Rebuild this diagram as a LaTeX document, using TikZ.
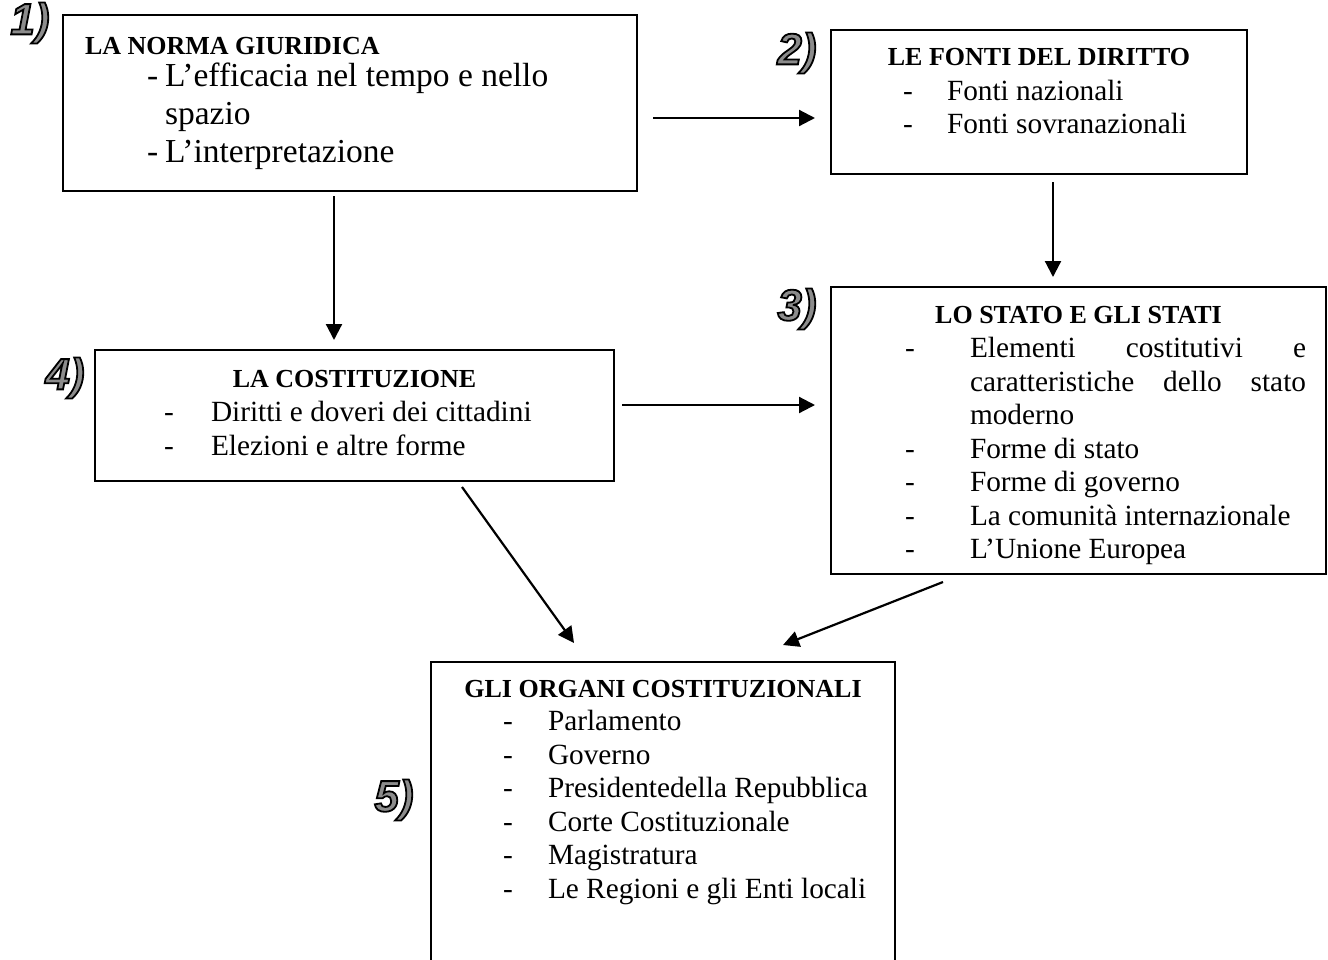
\documentclass[tikz,border=0pt]{standalone}
\usepackage{fontspec}
\setmainfont{Liberation Serif}
\newfontfamily\lblfont{Liberation Sans}
\usetikzlibrary{arrows.meta,calc}
\definecolor{lblgray}{gray}{0.55}
\newcommand{\outl}[1]{\special{pdf:literal direct 2 Tr 1.8 w 0 G}#1\special{pdf:literal direct 0 Tr}}
\begin{document}
\begin{tikzpicture}[x=1pt,y=-1pt,
 box/.style={draw,line width=1.3pt,inner sep=0pt,outer sep=0pt,anchor=north west},
 ttl/.style={inner sep=0pt,outer sep=0pt,anchor=base,font=\fontsize{26}{30}\selectfont\bfseries},
 itm/.style={inner sep=0pt,outer sep=0pt,anchor=base west,font=\fontsize{29.3}{33.7}\selectfont},
 itmA/.style={itm,font=\fontsize{33.5}{38.5}\selectfont},
 arr/.style={line width=2.2pt,-{Triangle[length=16pt,width=16pt]}},
 lbl/.style={inner sep=0pt,outer sep=0pt,font=\lblfont\fontsize{44}{46}\selectfont\bfseries\itshape,text=lblgray}]
\useasboundingbox (0,0) rectangle (1328,959);

% boxes
\node[box,minimum width=574pt,minimum height=176pt] (b1) at (63,15) {};
\node[box,minimum width=416pt,minimum height=144pt] (b2) at (831,30) {};
\node[box,minimum width=495pt,minimum height=287pt] (b3) at (831,287) {};
\node[box,minimum width=519pt,minimum height=131pt] (b4) at (95,350) {};
\node[box,minimum width=464pt,minimum height=320pt] (b5) at (431,662) {};

% labels
\node[lbl] (l1) at (30,23) {\outl{1)}};
\node[lbl] (l2) at (797,53) {\outl{2)}};
\node[lbl] (l3) at (797,309) {\outl{3)}};
\node[lbl] (l4) at (65,378) {\outl{4)}};
\node[lbl] (l5) at (394,800) {\outl{5)}};

% box 1
\node[ttl,anchor=base west] (t1) at (85,54) {LA NORMA GIURIDICA};
\node[itmA] (d11) at (147,86) {-};
\node[itmA] (i11) at (165,86) {L’efficacia nel tempo e nello};
\node[itmA] (i12) at (165,124) {spazio};
\node[itmA] (d13) at (147,162) {-};
\node[itmA] (i13) at (165,162) {L’interpretazione};

% box 2
\node[ttl] (t2) at (1039,65) {LE FONTI DEL DIRITTO};
\node[itm] (d21) at (903,100) {-};
\node[itm] (i21) at (947,100) {Fonti nazionali};
\node[itm] (d22) at (903,133) {-};
\node[itm] (i22) at (947,133) {Fonti sovranazionali};

% box 3
\node[ttl] (t3) at (1078.5,323) {LO STATO E GLI STATI};
\node[itm] (d31) at (905,357) {-};
\node[itm] (i31) at (970,357) {\makebox[336pt][l]{Elementi\hfill costitutivi\hfill e}};
\node[itm] (i32) at (970,391) {\makebox[336pt][l]{caratteristiche\hfill dello\hfill stato}};
\node[itm] (i33) at (970,424) {moderno};
\node[itm] (d34) at (905,458) {-};
\node[itm] (i34) at (970,458) {Forme di stato};
\node[itm] (d35) at (905,491) {-};
\node[itm] (i35) at (970,491) {Forme di governo};
\node[itm] (d36) at (905,525) {-};
\node[itm] (i36) at (970,525) {La comunità internazionale};
\node[itm] (d37) at (905,558) {-};
\node[itm] (i37) at (970,558) {L’Unione Europea};

% box 4
\node[ttl] (t4) at (354.5,387) {LA COSTITUZIONE};
\node[itm] (d41) at (164,421) {-};
\node[itm] (i41) at (211,421) {Diritti e doveri dei cittadini};
\node[itm] (d42) at (164,455) {-};
\node[itm] (i42) at (211,455) {Elezioni e altre forme};

% box 5
\node[ttl] (t5) at (663,697) {GLI ORGANI COSTITUZIONALI};
\node[itm] (d51) at (503,730) {-};
\node[itm] (i51) at (548,730) {Parlamento};
\node[itm] (d52) at (503,764) {-};
\node[itm] (i52) at (548,764) {Governo};
\node[itm] (d53) at (503,797) {-};
\node[itm] (i53) at (548,797) {Presidentedella Repubblica};
\node[itm] (d54) at (503,831) {-};
\node[itm] (i54) at (548,831) {Corte Costituzionale};
\node[itm] (d55) at (503,864) {-};
\node[itm] (i55) at (548,864) {Magistratura};
\node[itm] (d56) at (503,898) {-};
\node[itm] (i56) at (548,898) {Le Regioni e gli Enti locali};

% connectors
\draw[arr] ($(b1.north east)+(16,103)$) -- ($(b2.north west)+(-16,88)$);
\draw[arr] ($(b2.south west)+(222,8)$) -- ($(b3.north west)+(222,-10)$);
\draw[arr] ($(b1.south west)+(271,5)$) -- ($(b4.north west)+(239,-10)$);
\draw[arr] ($(b4.north east)+(8,55)$) -- ($(b3.north west)+(-16,118)$);
\draw[arr] ($(b4.south west)+(367,6)$) -- ($(b5.north west)+(143,-19)$);
\draw[arr] ($(b3.south west)+(112,8)$) -- ($(b5.north east)+(-112,-17)$);
\end{tikzpicture}
\end{document}
